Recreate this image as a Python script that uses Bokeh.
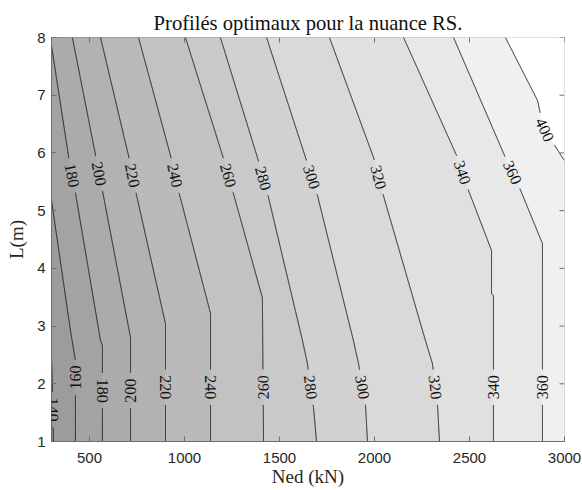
import numpy as np
from bokeh.plotting import figure
from bokeh.models import Range1d, FixedTicker, ColumnDataSource, LabelSet
from bokeh.embed import file_html
from bokeh.resources import INLINE

# ---------------- data ----------------
levels = [140, 160, 180, 200, 220, 240, 260, 280, 300, 320, 340, 360, 400]

ned_140 = [300, 306, 310]
len_140 = [2.45, 1.80, 1.00]
ned_160 = [300, 400, 426, 426]
len_160 = [5.18, 2.92, 2.40, 1.00]
ned_180 = [300, 389, 426, 558, 568, 568]
len_180 = [7.86, 5.96, 5.31, 2.75, 2.66, 1.00]
ned_200 = [410, 532, 568, 716, 716]
len_200 = [8.00, 5.96, 5.35, 2.80, 1.00]
ned_220 = [558, 705, 742, 900, 900]
len_220 = [8.00, 5.96, 5.35, 3.04, 1.00]
ned_240 = [758, 926, 968, 1137, 1137]
len_240 = [8.00, 5.96, 5.35, 3.22, 1.00]
ned_260 = [1005, 1200, 1253, 1410, 1416]
len_260 = [8.00, 5.96, 5.35, 3.49, 1.00]
ned_280 = [1189, 1384, 1437, 1621, 1647, 1679, 1695]
len_280 = [8.00, 5.92, 5.30, 2.75, 2.35, 1.59, 1.00]
ned_300 = [1432, 1637, 1700, 1889, 1916, 1953, 1963]
len_300 = [8.00, 5.92, 5.26, 2.75, 2.35, 1.62, 1.00]
ned_320 = [1763, 1995, 2047, 2268, 2305, 2332, 2342]
len_320 = [8.00, 5.92, 5.26, 2.75, 2.35, 1.62, 1.00]
ned_340 = [2153, 2437, 2489, 2616, 2616, 2626, 2626]
len_340 = [8.00, 5.92, 5.40, 4.31, 3.56, 3.53, 1.00]
ned_360 = [2416, 2689, 2758, 2884, 2884]
len_360 = [8.00, 5.92, 5.44, 4.43, 1.00]
ned_400 = [2689, 2858, 2889, 2989, 3000]
len_400 = [8.00, 6.91, 6.44, 5.92, 5.87]

contour_ned = [ned_140, ned_160, ned_180, ned_200, ned_220, ned_240, ned_260,
               ned_280, ned_300, ned_320, ned_340, ned_360, ned_400]
contour_len = [len_140, len_160, len_180, len_200, len_220, len_240, len_260,
               len_280, len_300, len_320, len_340, len_360, len_400]

# contour labels: level, L position, reading upward?
label_levels = [180, 200, 220, 240, 260, 280, 300, 320, 340, 360, 400,
                140, 160, 180, 200, 220, 240, 260, 280, 300, 320, 340, 360]
label_len = [5.61, 5.64, 5.61, 5.61, 5.61, 5.56, 5.58, 5.58, 5.66, 5.66, 6.40,
             1.55, 2.11, 1.88, 1.88, 1.94, 1.94, 1.94, 1.94, 1.94, 1.94, 1.94, 1.94]
label_up = [False] * 11 + [False, True, False, True, False, False, True,
                           False, False, False, True, True]

x_ticks = [500, 1000, 1500, 2000, 2500, 3000]
y_ticks = [1, 2, 3, 4, 5, 6, 7, 8]

# ---------------- layout ----------------
X0, X1, Y0, Y1 = 300, 3000, 1, 8
W, H = 582, 490
ML, MT = 51, 37
FW, FH = 513, 404
MR = W - ML - FW
MB = H - MT - FH
sx = FW / (X1 - X0)
sy = FH / (Y1 - Y0)
AXC = "#6e6e6e"


def gray(level):
    g = 1.0 - (400 - level) * 0.0015
    v = int(round(max(0, min(1, g)) * 255))
    return "#%02x%02x%02x" % (v, v, v)


p = figure(width=W, height=H, output_backend="svg", toolbar_location=None,
           x_range=Range1d(X0, X1), y_range=Range1d(Y0, Y1),
           min_border_left=ML, min_border_right=MR, min_border_top=MT,
           min_border_bottom=MB, title="Profilés optimaux pour la nuance RS.")
p.background_fill_color = gray(120)
p.border_fill_color = "white"
p.outline_line_color = AXC
p.grid.visible = False

# filled regions (high side of each contour)
xs, ys, cols = [], [], []
for lev, n, l in zip(levels, contour_ned, contour_len):
    px = list(n)
    py = list(l)
    if py[-1] <= Y0 + 1e-9:          # ends on bottom edge
        px.append(X1); py.append(Y0)
    px.append(X1); py.append(Y1)
    if px[0] <= X0 + 1e-9 and l[0] < Y1:  # starts on left edge
        px.append(X0); py.append(Y1)
    xs.append(px); ys.append(py); cols.append(gray(lev))
p.patches(xs, ys, fill_color=cols, line_color=None)

# label positions and angles
lab_x, lab_y, lab_a, lab_t = [], [], [], []
for lev, lq, up in zip(label_levels, label_len, label_up):
    i = levels.index(lev)
    n = np.array(contour_ned[i], float)
    l = np.array(contour_len[i], float)
    nq = np.interp(lq, l[::-1], n[::-1])
    d = 0.2
    n_hi = np.interp(min(lq + d, l.max()), l[::-1], n[::-1])
    n_lo = np.interp(max(lq - d, l.min()), l[::-1], n[::-1])
    dx = (n_lo - n_hi) * sx
    dy = (max(lq - d, l.min()) - min(lq + d, l.max())) * sy
    ang = np.arctan2(dy, dx)
    if up:
        ang += np.pi
    lab_x.append(nq); lab_y.append(lq); lab_a.append(ang); lab_t.append(str(lev))

# contour lines, broken around labels
R = 17.5
for lev, n, l in zip(levels, contour_ned, contour_len):
    px = (np.array(n, float) - X0) * sx
    py = (np.array(l, float) - Y0) * sy
    ox, oy = [px[0]], [py[0]]
    for k in range(len(px) - 1):
        dd = np.hypot(px[k + 1] - px[k], py[k + 1] - py[k])
        m = max(int(dd / 0.5), 1)
        t = np.linspace(0, 1, m + 1)[1:]
        ox.extend(px[k] + (px[k + 1] - px[k]) * t)
        oy.extend(py[k] + (py[k + 1] - py[k]) * t)
    ox = np.array(ox); oy = np.array(oy)
    mask = np.zeros(len(ox), bool)
    for lx, ly, lt in zip(lab_x, lab_y, lab_t):
        if lt == str(lev):
            cx = (lx - X0) * sx; cy = (ly - Y0) * sy
            mask |= np.hypot(ox - cx, oy - cy) < R
    xd = ox / sx + X0
    yd = oy / sy + Y0
    xd[mask] = np.nan
    yd[mask] = np.nan
    p.line(xd, yd, line_color="#1a1a1a", line_width=1)

src = ColumnDataSource(dict(x=lab_x, y=lab_y, a=lab_a, t=lab_t))
p.add_layout(LabelSet(x="x", y="y", text="t", angle="a", source=src,
                      text_align="center", text_baseline="middle",
                      text_font="Liberation Sans", text_font_size="16px",
                      text_color="#111111"))

# mirrored ticks on top and right edges (inside the box)
p.ray(x=x_ticks, y=[Y1] * len(x_ticks), length=5, length_units="screen",
      angle=-np.pi / 2, line_color=AXC, line_width=1)
p.ray(x=[X1] * len(y_ticks), y=y_ticks, length=5, length_units="screen",
      angle=np.pi, line_color=AXC, line_width=1)

# axes
for ax in (p.xaxis[0], p.yaxis[0]):
    ax.major_tick_in = 5
    ax.major_tick_out = 0
    ax.minor_tick_line_color = None
    ax.axis_line_color = AXC
    ax.major_tick_line_color = AXC
    ax.major_label_text_font = "Liberation Sans"
    ax.major_label_text_font_size = "15px"
    ax.major_label_text_color = "#262626"
    ax.axis_label_text_font = "Liberation Serif"
    ax.axis_label_text_font_style = "normal"
    ax.axis_label_text_font_size = "19px"
    ax.axis_label_text_color = "#262626"
p.xaxis.ticker = FixedTicker(ticks=x_ticks)
p.yaxis.ticker = FixedTicker(ticks=y_ticks)
p.xaxis.axis_label = "Ned (kN)"
p.yaxis.axis_label = "L(m)"
p.xaxis.major_label_standoff = 11
p.xaxis.axis_label_standoff = 0
p.yaxis.major_label_standoff = 6
p.yaxis.axis_label_standoff = 7

p.title.align = "center"
p.title.text_font = "Liberation Serif"
p.title.text_font_style = "normal"
p.title.text_font_size = "20.6px"
p.title.text_color = "#111111"
p.title.standoff = 8

open("out.html", "w").write(file_html(p, INLINE))
